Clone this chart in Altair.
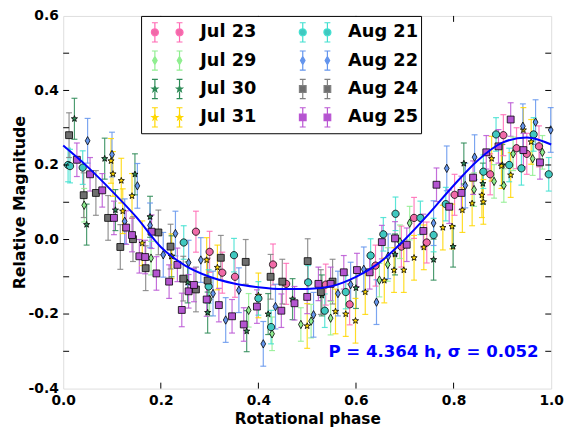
import math
import altair as alt
import pandas as pd

# ---------------- data ----------------
nights = ["Jul 23", "Jul 29", "Jul 30", "Jul 31", "Aug 21", "Aug 22", "Aug 24", "Aug 25"]

jul23_phase = [0.272, 0.300, 0.326, 0.352, 0.430, 0.457, 0.538, 0.587, 0.640, 0.693, 0.719, 0.745, 0.802, 0.875, 0.902, 0.929, 0.950, 0.975]
jul23_mag = [0.021, -0.033, -0.089, -0.100, -0.067, -0.119, -0.121, -0.174, -0.070, -0.019, 0.058, -0.008, 0.120, 0.175, 0.280, 0.245, 0.230, 0.250]

jul29_phase = [0.043, 0.180, 0.300, 0.380, 0.428, 0.487, 0.508, 0.548, 0.648, 0.665, 0.690, 0.710, 0.842, 0.883, 0.903, 0.922, 0.962, 0.982]
jul29_mag = [0.092, -0.050, -0.160, -0.190, -0.253, -0.228, -0.219, -0.211, -0.109, -0.067, -0.006, 0.044, 0.134, 0.156, 0.145, 0.230, 0.217, 0.234]

jul30_phase = [0.023, 0.048, 0.085, 0.107, 0.147, 0.178, 0.222, 0.255, 0.296, 0.376, 0.420, 0.470, 0.530, 0.600, 0.680, 0.759, 0.799, 0.821, 0.860, 0.900]
jul30_mag = [0.324, 0.040, 0.217, 0.079, 0.175, 0.061, -0.045, -0.115, -0.196, -0.246, -0.200, -0.160, -0.150, -0.130, -0.040, -0.054, -0.019, 0.204, 0.150, 0.200]

jul31_phase = [0.098, 0.102, 0.119, 0.122, 0.141, 0.162, 0.222, 0.294, 0.316, 0.400, 0.500, 0.558, 0.579, 0.599, 0.619, 0.658, 0.678, 0.698, 0.719, 0.739, 0.778, 0.797, 0.818, 0.838, 0.858, 0.861, 0.878, 0.898, 0.917, 0.943, 0.959]
jul31_mag = [0.211, 0.176, 0.158, 0.076, 0.117, -0.010, -0.045, -0.055, -0.075, -0.150, -0.232, -0.193, -0.200, -0.218, -0.141, -0.110, -0.082, -0.082, -0.049, -0.021, 0.032, 0.035, 0.079, 0.097, 0.119, 0.101, 0.217, 0.197, 0.173, 0.294, 0.262]

aug21_phase = [0.010, 0.014, 0.040, 0.247, 0.298, 0.350, 0.400, 0.426, 0.502, 0.536, 0.579, 0.630, 0.656, 0.681, 0.732, 0.759, 0.784, 0.861, 0.887, 0.914, 0.939, 0.964, 0.995]
aug21_mag = [0.200, 0.197, 0.193, -0.008, -0.126, -0.042, -0.158, -0.235, -0.115, -0.191, -0.141, -0.043, 0.014, 0.069, 0.058, 0.012, 0.095, 0.182, 0.282, 0.200, 0.191, 0.282, 0.175]

aug22_phase = [0.050, 0.100, 0.126, 0.152, 0.178, 0.205, 0.230, 0.257, 0.282, 0.307, 0.333, 0.360, 0.410, 0.435, 0.513, 0.563, 0.589, 0.616, 0.642, 0.666, 0.759, 0.786, 0.824, 0.843, 0.942, 0.968, 0.999]
aug22_mag = [0.265, 0.228, 0.049, 0.144, 0.038, -0.041, 0.016, -0.062, -0.055, -0.145, -0.216, -0.136, -0.280, -0.180, -0.202, -0.145, -0.121, -0.080, -0.168, -0.045, 0.044, 0.191, 0.145, 0.221, 0.304, 0.315, 0.294]

aug24_phase = [0.012, 0.042, 0.067, 0.092, 0.117, 0.143, 0.169, 0.195, 0.220, 0.246, 0.272, 0.296, 0.323, 0.374, 0.425, 0.449, 0.501, 0.528, 0.552]
aug24_mag = [0.280, 0.119, 0.125, 0.058, -0.020, 0.001, -0.077, 0.019, -0.019, -0.105, -0.134, -0.110, -0.049, -0.060, -0.100, -0.113, -0.058, -0.141, -0.113]

aug25_phase = [0.028, 0.055, 0.080, 0.104, 0.129, 0.141, 0.156, 0.168, 0.181, 0.191, 0.217, 0.234, 0.243, 0.257, 0.268, 0.294, 0.319, 0.346, 0.370, 0.397, 0.447, 0.474, 0.500, 0.523, 0.548, 0.575, 0.602, 0.628, 0.653, 0.680, 0.704, 0.738, 0.765, 0.791, 0.816, 0.840, 0.867, 0.892, 0.917, 0.943, 0.977]
aug25_mag = [0.214, 0.175, 0.132, 0.058, 0.032, 0.012, -0.045, -0.047, 0.021, -0.091, -0.113, -0.068, -0.189, -0.139, -0.122, -0.161, -0.176, -0.206, -0.228, -0.180, -0.191, -0.171, -0.154, -0.119, -0.119, -0.088, -0.082, -0.088, -0.007, 0.003, -0.014, 0.023, 0.147, 0.088, 0.125, 0.166, 0.234, 0.250, 0.322, 0.240, 0.207]

night_err = [0.055, 0.045, 0.055, 0.060, 0.045, 0.060, 0.060, 0.045]

fit_phase = [0.00, 0.05, 0.10, 0.15, 0.20, 0.25, 0.30, 0.35, 0.40, 0.45, 0.50, 0.55, 0.60, 0.65, 0.70, 0.75, 0.80, 0.85, 0.90, 0.95, 1.00]
fit_mag = [0.252, 0.195, 0.130, 0.060, -0.020, -0.070, -0.100, -0.118, -0.128, -0.133, -0.133, -0.125, -0.100, -0.060, 0.000, 0.070, 0.145, 0.213, 0.260, 0.274, 0.255]

x_ticks = [0.0, 0.2, 0.4, 0.6, 0.8, 1.0]
y_ticks = [-0.4, -0.2, 0.0, 0.2, 0.4, 0.6]
y_minor = [-0.3, -0.2, -0.1, 0.0, 0.1, 0.2, 0.3, 0.4, 0.5]
x_minor = [0.2, 0.4, 0.6, 0.8]

annotation_text = "P = 4.364 h, σ = 0.052"
annotation_pos = (0.974, -0.302)

# ---------------- styling ----------------
err_colors = {"Jul 23": "#ff69b4", "Jul 29": "#90ee90", "Jul 30": "#2e8b57", "Jul 31": "#ffd700",
              "Aug 21": "#40e0d0", "Aug 22": "#6495ed", "Aug 24": "#808080", "Aug 25": "#ba55d3"}
fill_colors = {"Jul 23": "#f06aa8", "Jul 29": "#90ee90", "Jul 30": "#2e8b57", "Jul 31": "#ffd700",
               "Aug 21": "#40c8c0", "Aug 22": "#6495ed", "Aug 24": "#6e6e6e", "Aug 25": "#b455d0"}
kind = {"Jul 23": "circle", "Aug 21": "circle", "Jul 29": "diamond", "Aug 22": "diamond",
        "Jul 30": "star", "Jul 31": "star", "Aug 24": "square", "Aug 25": "square"}


def circle_path(cx, r):
    return f"M{cx - r:.3f},0A{r:.3f},{r:.3f} 0 1,0 {cx + r:.3f},0A{r:.3f},{r:.3f} 0 1,0 {cx - r:.3f},0Z"


def square_path(cx, s):
    return f"M{cx - s:.3f},{-s:.3f}L{cx + s:.3f},{-s:.3f}L{cx + s:.3f},{s:.3f}L{cx - s:.3f},{s:.3f}Z"


def diamond_path(cx, h, w):
    return f"M{cx:.3f},{-h:.3f}L{cx + w:.3f},0L{cx:.3f},{h:.3f}L{cx - w:.3f},0Z"


def star_path(cx, R):
    pts = []
    for k in range(10):
        ang = -math.pi / 2 + k * math.pi / 5
        rr = R if k % 2 == 0 else R * 0.42
        pts.append((cx + rr * math.cos(ang), rr * math.sin(ang)))
    return "M" + "L".join(f"{x:.3f},{y:.3f}" for x, y in pts) + "Z"


def marker_path(k, cx, unit):
    if k == "circle":
        return circle_path(cx, 0.95 * unit), 0.95 * unit
    if k == "square":
        return square_path(cx, 0.9 * unit), 0.9 * unit
    if k == "diamond":
        return diamond_path(cx, 1.1 * unit, 0.62 * unit), 1.1 * unit
    return star_path(cx, 0.85 * unit), 0.7 * unit


def legend_symbol(k):
    # two markers with their error bars, as matplotlib draws with numpoints=2
    out = ""
    for cx in (-1.0, 1.0):
        mp, half = marker_path(k, cx, 0.3)
        h, c = 0.78, 0.24
        out += (f"M{cx:.3f},{-h:.3f}L{cx:.3f},{-half:.3f}M{cx:.3f},{half:.3f}L{cx:.3f},{h:.3f}"
                f"M{cx - c:.3f},{-h:.3f}L{cx + c:.3f},{-h:.3f}M{cx - c:.3f},{h:.3f}L{cx + c:.3f},{h:.3f}")
        out += mp
    return out


single_shapes = [marker_path(kind[n], 0, 1.0)[0] for n in nights]
legend_shapes = [legend_symbol(kind[n]) for n in nights]

# ---------------- table ----------------
phases = [jul23_phase, jul29_phase, jul30_phase, jul31_phase, aug21_phase, aug22_phase, aug24_phase, aug25_phase]
mags = [jul23_mag, jul29_mag, jul30_mag, jul31_mag, aug21_mag, aug22_mag, aug24_mag, aug25_mag]
rows = []
for i, n in enumerate(nights):
    for p, m in zip(phases[i], mags[i]):
        rows.append({"night": n, "phase": p, "mag": m,
                     "lo": m - night_err[i], "hi": m + night_err[i], "order": i})
df = pd.DataFrame(rows)
fit_df = pd.DataFrame({"phase": fit_phase, "mag": fit_mag})

W, H = 495, 378
FONT = "DejaVu Sans"

xscale = alt.Scale(domain=[0, 1], nice=False, zero=False)
yscale = alt.Scale(domain=[-0.4, 0.6], nice=False, zero=False)
label_expr = "(datum.value < 0 ? '-' : '') + format(abs(datum.value), '.1f')"
xaxis = alt.Axis(values=x_ticks, labelExpr=label_expr, ticks=False, domain=False, grid=False,
                 labelFont=FONT, labelFontSize=14, labelFontWeight="bold", labelColor="black",
                 labelPadding=5, labelFlush=False, labelOverlap=False,
                 title="Rotational phase", titleFont=FONT, titleFontSize=15.5,
                 titleFontWeight="bold", titleColor="black", titlePadding=4)
yaxis = alt.Axis(values=y_ticks, labelExpr=label_expr, ticks=False, domain=False, grid=False,
                 labelFont=FONT, labelFontSize=14, labelFontWeight="bold", labelColor="black",
                 labelPadding=5, labelFlush=False, labelOverlap=False,
                 title="Relative Magnitude", titleFont=FONT, titleFontSize=16,
                 titleFontWeight="bold", titleColor="black", titlePadding=1)


def X(f):
    return alt.X(f"{f}:Q", scale=xscale, axis=xaxis, title="Rotational phase")


def Y(f):
    return alt.Y(f"{f}:Q", scale=yscale, axis=yaxis, title="Relative Magnitude")


leg = alt.Legend(orient="none", legendX=79, legendY=0, columns=2, title=None,
                 symbolSize=625, symbolStrokeWidth=1.2, symbolOpacity=1, symbolOffset=10,
                 labelFontSize=18, labelFont=FONT, labelFontWeight="bold", labelColor="black",
                 labelOffset=20, columnPadding=36, rowPadding=2.8, padding=3, labelLimit=300,
                 strokeColor="black", fillColor="white")

err_scale = alt.Scale(domain=nights, range=[err_colors[n] for n in nights])
fill_scale = alt.Scale(domain=nights, range=[fill_colors[n] for n in nights])

base = alt.Chart(df)

err_rules = base.mark_rule(strokeWidth=1.2, opacity=0.85).encode(
    x=X("phase"), y=Y("lo"), y2="hi:Q",
    stroke=alt.Stroke("night:N", scale=err_scale, legend=None))

caps_lo = base.mark_tick(orient="horizontal", size=6, thickness=1.2, opacity=0.85).encode(
    x=X("phase"), y=Y("lo"), color=alt.Color("night:N", scale=err_scale, legend=None))
caps_hi = base.mark_tick(orient="horizontal", size=6, thickness=1.2, opacity=0.85).encode(
    x=X("phase"), y=Y("hi"), color=alt.Color("night:N", scale=err_scale, legend=None))

markers = base.mark_point(filled=True, opacity=1, stroke="black", strokeWidth=0.8, size=60).encode(
    x=X("phase"), y=Y("mag"),
    fill=alt.Fill("night:N", scale=fill_scale, legend=None),
    shape=alt.Shape("night:N", scale=alt.Scale(domain=nights, range=single_shapes), legend=None),
    order="order:Q")

# legend only (no data drawn): two markers with error bars per night
legend_layer = base.transform_filter("datum.phase < -10").mark_point(
    filled=True, opacity=1, strokeWidth=1.2, size=625).encode(
    x=X("phase"), y=Y("mag"),
    fill=alt.Fill("night:N", scale=fill_scale, legend=leg),
    stroke=alt.Stroke("night:N", scale=err_scale, legend=leg),
    shape=alt.Shape("night:N", scale=alt.Scale(domain=nights, range=legend_shapes), legend=leg))

fit_line = alt.Chart(fit_df).mark_line(color="#0000ff", strokeWidth=2, interpolate="monotone").encode(
    x=X("phase"), y=Y("mag"))

ann = alt.Chart(pd.DataFrame({"x": [annotation_pos[0]], "y": [annotation_pos[1]], "t": [annotation_text]})).mark_text(
    align="right", baseline="middle", font=FONT, fontWeight="bold", fontSize=16.8, color="#0000ff").encode(
    x=X("x"), y=Y("y"), text="t:N")

ydf = pd.DataFrame({"v": y_minor})
xdf = pd.DataFrame({"v": x_minor})
tick_left = alt.Chart(ydf).mark_rule(color="black", strokeWidth=1).encode(
    y=Y("v"), x=alt.value(0), x2=alt.value(6))
tick_right = alt.Chart(ydf).mark_rule(color="black", strokeWidth=1).encode(
    y=Y("v"), x=alt.value(W), x2=alt.value(W - 6))
tick_bottom = alt.Chart(xdf).mark_rule(color="black", strokeWidth=1).encode(
    x=X("v"), y=alt.value(H), y2=alt.value(H - 6))
tick_top = alt.Chart(xdf).mark_rule(color="black", strokeWidth=1).encode(
    x=X("v"), y=alt.value(0), y2=alt.value(6))

chart = alt.layer(
    err_rules, caps_lo, caps_hi, markers, legend_layer, fit_line, ann,
    tick_left, tick_right, tick_bottom, tick_top
).resolve_scale(
    shape="independent", fill="independent", stroke="independent", color="independent"
).properties(
    width=W, height=H,
    autosize=alt.AutoSizeParams(type="none"),
    padding={"left": 56, "top": 5, "right": 13, "bottom": 41},
).configure_view(
    stroke="black", strokeWidth=1.5
).configure(background="white")

chart.save("out.html", embed_options={"renderer": "svg", "actions": False})
